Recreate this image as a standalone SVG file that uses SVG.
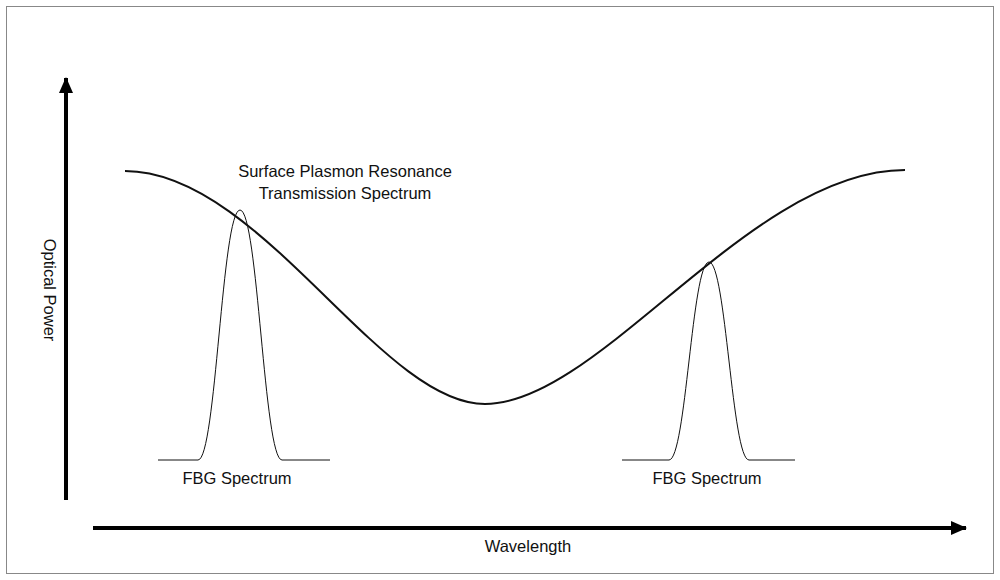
<svg xmlns="http://www.w3.org/2000/svg" width="1000" height="580" viewBox="0 0 1000 580">
<defs>
<marker id="ah" markerWidth="16" markerHeight="14" refX="15" refY="7" orient="auto" markerUnits="userSpaceOnUse" viewBox="0 0 16 14"><path d="M0,0 L16,7 L0,14 z" fill="#000"/></marker>
<style>
text{font-family:"Liberation Sans",Arial,sans-serif;font-size:16.5px;fill:#111}
.c{fill:none;stroke:#111}
</style>
</defs>
<rect width="1000" height="580" fill="#fff"/>
<rect x="6.5" y="6.5" width="987" height="567" fill="none" stroke="#888"/>
<g id="connectors">
<line x1="66" y1="500" x2="66" y2="78" stroke="#000" stroke-width="4" marker-end="url(#ah)"/>
<line x1="93" y1="528" x2="966" y2="528" stroke="#000" stroke-width="4" marker-end="url(#ah)"/>
</g>
<g id="spr">
<path class="c" stroke-width="2" d="M125,171 C 260,171 380,404 485,404 C 600,404 750,170 905,170"/>
<text x="345" y="177" text-anchor="middle">Surface Plasmon Resonance</text>
<text x="345" y="199" text-anchor="middle">Transmission Spectrum</text>
</g>
<g id="fbg1">
<path class="c" stroke-width="1" d="M158,460 L198,460 C 216,460 222,210 240,210 C 258,210 264,460 282,460 L330,460"/>
<text x="237" y="484" text-anchor="middle">FBG Spectrum</text>
</g>
<g id="fbg2">
<path class="c" stroke-width="1" d="M622,460 L669,460 C 686,460 692,262 709,262 C 726,262 732,460 749,460 L795,460"/>
<text x="707" y="484" text-anchor="middle">FBG Spectrum</text>
</g>
<text x="528" y="552" text-anchor="middle">Wavelength</text>
<text transform="translate(44,290) rotate(90)" text-anchor="middle">Optical Power</text>
</svg>
